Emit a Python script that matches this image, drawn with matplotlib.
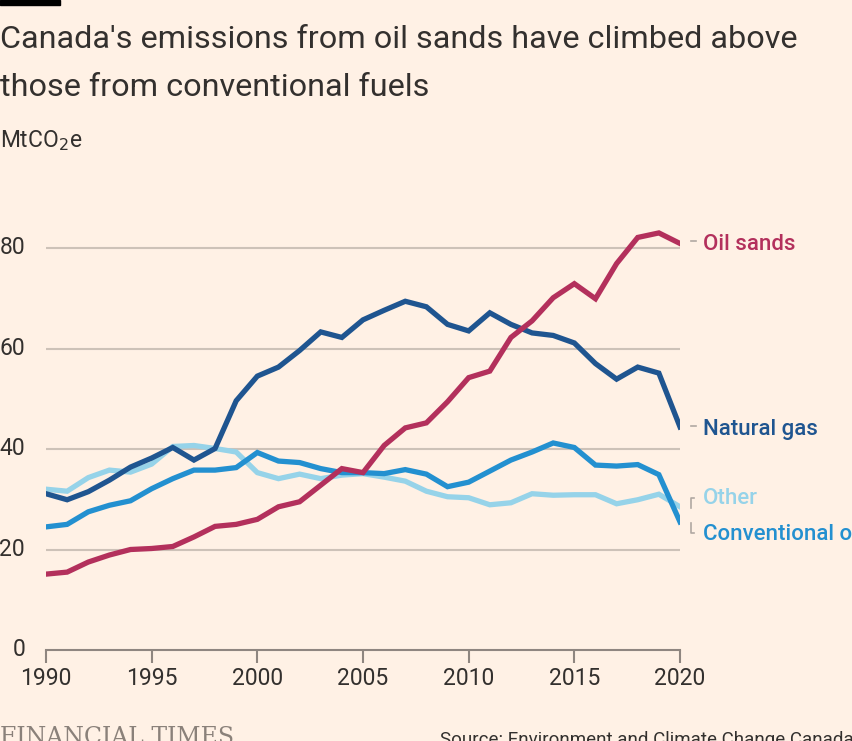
import matplotlib.pyplot as plt
import matplotlib.patches as patches

# data (MtCO2e)
years = list(range(1990, 2021))

oil_sands = [15.1, 15.5, 17.5, 18.9, 20.0, 20.2, 20.6, 22.5, 24.6, 25.0,
             26.0, 28.5, 29.5, 32.8, 36.1, 35.3, 40.7, 44.2, 45.2, 49.4,
             54.2, 55.5, 62.2, 65.5, 70.1, 72.9, 69.9, 76.9, 82.1, 83.0, 80.9]

natural_gas = [31.1, 29.9, 31.5, 33.8, 36.4, 38.2, 40.3, 37.8, 40.1, 49.6,
               54.5, 56.3, 59.6, 63.3, 62.2, 65.7, 67.6, 69.4, 68.3, 64.8,
               63.5, 67.1, 64.8, 63.1, 62.6, 61.1, 57.0, 53.9, 56.3, 55.1, 44.4]

conventional_oil = [24.5, 25.0, 27.5, 28.8, 29.7, 32.1, 34.1, 35.8, 35.8, 36.3,
                    39.3, 37.6, 37.3, 36.1, 35.3, 35.3, 35.1, 35.9, 35.0, 32.5,
                    33.4, 35.6, 37.8, 39.4, 41.2, 40.3, 36.8, 36.6, 36.9, 34.9, 25.5]

other = [32.0, 31.6, 34.3, 35.8, 35.4, 37.0, 40.5, 40.7, 40.1, 39.4,
         35.3, 34.1, 35.0, 34.1, 34.8, 35.1, 34.4, 33.6, 31.6, 30.5,
         30.3, 28.9, 29.3, 31.1, 30.8, 30.9, 30.9, 29.1, 29.9, 31.0, 28.5]

yticks = [0, 20, 40, 60, 80]
xticks = [1990, 1995, 2000, 2005, 2010, 2015, 2020]

# colours
bg = "#fff1e5"
c_oil = "#b3305c"
c_gas = "#1f5590"
c_conv = "#2390d0"
c_other = "#96d3e9"
grid_col = "#cdc2b8"
axis_col = "#8f8680"
text_col = "#33302e"

W, H = 852, 741
fig = plt.figure(figsize=(W / 100, H / 100), dpi=100, facecolor=bg)

# axes: 1990 at x=46px, 2020 at x=680px; y=0 at 650px, 80 at 248px
ymax = 90
left, right = 46 / W, 680 / W
bottom = 1 - 650 / H
top = 1 - (650 - ymax * 402 / 80) / H
ax = fig.add_axes([left, bottom, right - left, top - bottom])
ax.set_facecolor(bg)
ax.set_xlim(1990, 2020)
ax.set_ylim(0, ymax)

for s in ["top", "right", "left"]:
    ax.spines[s].set_visible(False)
ax.spines["bottom"].set_color(axis_col)
ax.spines["bottom"].set_linewidth(1.5)

for y in yticks[1:]:
    ax.axhline(y, color=grid_col, lw=1.5, zorder=1)

# lines (drawn order matters for overlaps)
ax.plot(years, other, color=c_other, lw=3.8, zorder=3, solid_joinstyle="miter")
ax.plot(years, conventional_oil, color=c_conv, lw=3.8, zorder=3, solid_joinstyle="miter")
ax.plot(years, natural_gas, color=c_gas, lw=3.8, zorder=3, solid_joinstyle="miter")
ax.plot(years, oil_sands, color=c_oil, lw=3.8, zorder=4, solid_joinstyle="miter")

ax.set_xticks(xticks)
ax.set_xticklabels([str(x) for x in xticks], fontsize=16.5, color=text_col, family="Roboto")
ax.tick_params(axis="x", length=9, width=1.5, color=axis_col, pad=3)
ax.set_yticks([])

# y labels right aligned at x=25px
for y in yticks:
    ax.text(25 / W, bottom + (top - bottom) * y / ymax, str(y), transform=fig.transFigure,
            ha="right", va="center", fontsize=16.5, color=text_col, family="Roboto")

# right-hand line labels with small leader dashes
lab_font = dict(fontsize=16, fontweight="medium", family="Roboto")
labels = [("Oil sands", 80.6, c_oil), ("Natural gas", 43.9, c_gas),
          ("Other", 30.1, c_other), ("Conventional oil", 22.9, c_conv)]
for name, yv, col in labels:
    ax.text(2020 + 23 / 21.13, yv, name, color=col, va="center", ha="left",
            clip_on=False, **lab_font)
ax.plot([2020 + 11 / 21.13, 2020 + 16 / 21.13], [81.3, 81.3], color="#b0a8a2", lw=1.2, clip_on=False)
ax.plot([2020 + 11 / 21.13, 2020 + 16 / 21.13], [44.6, 44.6], color="#b0a8a2", lw=1.2, clip_on=False)
# bracket connectors for Other / Conventional oil
ax.plot([2020 + 11 / 21.13, 2020 + 11 / 21.13, 2020 + 14 / 21.13], [28.2, 30.3, 30.3],
        color="#b0a8a2", lw=1.2, clip_on=False)
ax.plot([2020 + 11 / 21.13, 2020 + 11 / 21.13, 2020 + 14 / 21.13], [25.2, 23.3, 23.3],
        color="#b0a8a2", lw=1.2, clip_on=False)

# header
fig.patches.append(patches.Rectangle((0, 1 - 5 / H), 60 / W, 5 / H, transform=fig.transFigure,
                                     color="black", zorder=5))
fig.text(0, 1 - 40 / H, "Canada's emissions from oil sands have climbed above",
         fontsize=23.3, color=text_col, va="center", ha="left", family="Roboto")
fig.text(0, 1 - 87 / H, "those from conventional fuels",
         fontsize=23.3, color=text_col, va="center", ha="left", family="Roboto")
fig.text(0, 1 - 141 / H, "MtCO$_2$e", fontsize=16.5, color=text_col, va="center", ha="left",
         family="Roboto")

# footer
fig.text(0, 1 - 737 / H, "FINANCIAL TIMES", fontsize=17, color="#8a817a", va="center",
         ha="left", family="DejaVu Serif")
fig.text(440 / W, 1 - 740 / H, "Source: Environment and Climate Change Canada",
         fontsize=13.5, color=text_col, va="center", ha="left", family="Roboto")

fig.savefig("out.png", dpi=100, facecolor=bg)
